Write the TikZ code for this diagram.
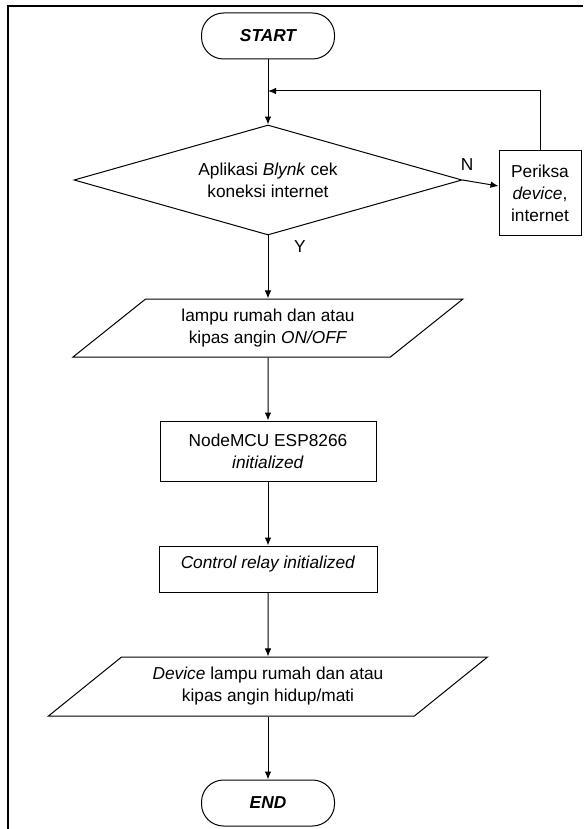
\documentclass[tikz,border=0pt]{standalone}
\usepackage{fontspec}
\setmainfont{Liberation Sans}
\usetikzlibrary{shapes.geometric,arrows.meta}

\begin{document}
\begin{tikzpicture}[>={Latex[length=8pt,width=6.5pt]},x=1pt,y=-1pt,line width=1pt,
  font=\fontsize{17.3}{22}\selectfont,
  terminal/.style={draw,rounded corners=22pt,minimum width=133pt,minimum height=46pt,
    inner sep=0pt,font=\fontsize{17.3}{22}\selectfont\bfseries\itshape},
  decision/.style={draw,diamond,aspect=3.5,minimum width=388pt,minimum height=110pt,
    inner sep=0pt,align=center},
  inout/.style={draw,trapezium,trapezium stretches=true,inner sep=0pt,align=center},
  process/.style={draw,rectangle,inner sep=0pt,align=center}]
  \useasboundingbox (0,0) rectangle (583,829);
  \draw[line width=1.2pt] (8,829) -- (8,6) -- (583,6);
  % flow
  \node[terminal] (start) at (268,36) {START};
  \node[decision] (cek) at (268,180) {Aplikasi \textit{Blynk} cek\\koneksi internet};
  \node[process,minimum width=82pt,minimum height=84pt] (periksa) at (540,193)
    {Periksa\\\textit{device},\\internet};
  \node[inout,minimum width=391pt,minimum height=58pt,
    trapezium left angle=36.6,trapezium right angle=143.4] (lampu) at (268,328)
    {lampu rumah dan atau\\kipas angin \textit{ON/OFF}};
  \node[process,minimum width=216pt,minimum height=60pt] (nodemcu) at (268,451)
    {NodeMCU ESP8266\\\textit{initialized}};
  \node[process,minimum width=218pt,minimum height=46pt] (relay) at (268,569)
    {\textit{Control relay initialized}\\[-8pt]\mbox{}};
  \node[inout,minimum width=440pt,minimum height=59pt,
    trapezium left angle=33.5,trapezium right angle=146.5] (device) at (268,686.5)
    {\textit{Device} lampu rumah dan atau\\kipas angin hidup/mati};
  \node[terminal] (end) at (268,803) {END};
  \coordinate (balik) at (268,91);
  % connectors
  \draw[->] (start) -- (cek);
  \draw[->] (cek.east) -- (periksa);
  \draw[->] (periksa.north) |- (balik);
  \draw[->] (cek) -- (lampu);
  \draw[->] (lampu) -- (nodemcu);
  \draw[->] (nodemcu) -- (relay);
  \draw[->] (relay) -- (device);
  \draw[->] (device) -- (end);
  \node at (467,165) {N};
  \node at (300,247) {Y};
\end{tikzpicture}
\end{document}
